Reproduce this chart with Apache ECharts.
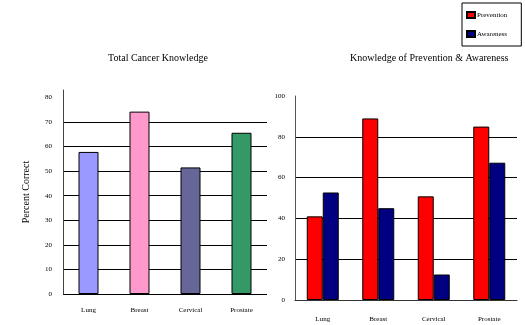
<!DOCTYPE html>
<html><head><meta charset="utf-8">
<script src="https://cdn.jsdelivr.net/npm/echarts@6/dist/echarts.min.js"></script>
<style>html,body{margin:0;padding:0;background:#fff}#c{width:525px;height:325px}</style>
</head><body><div id="c"></div>
<script>
var categories = ['Lung', 'Breast', 'Cervical', 'Prostate'];
var totalKnowledge = [57.8, 74.2, 51.5, 65.6];
var totalColors = ['#9999ff', '#ff99cc', '#666699', '#339966'];
var prevention = [41, 89, 50.8, 85];
var awareness = [52.7, 45, 12.5, 67.3];
var leftTicks = [0, 10, 20, 30, 40, 50, 60, 70, 80];
var rightTicks = [0, 20, 40, 60, 80, 100];

var F = 'Liberation Serif';
var chart = echarts.init(document.getElementById('c'));
chart.setOption({
  animation: false,
  textStyle: {fontFamily: F},
  title: [
    {text: 'Total Cancer Knowledge', left: 108, top: 53, padding: 0,
     textStyle: {fontFamily: F, fontSize: 10, fontWeight: 'normal', color: '#000'}},
    {text: 'Knowledge of Prevention & Awareness', left: 350, top: 53, padding: 0,
     textStyle: {fontFamily: F, fontSize: 10, fontWeight: 'normal', color: '#000'}}
  ],
  legend: {
    orient: 'vertical', left: 462, top: 3, width: 60, icon: 'rect',
    padding: [8, 14, 8, 4], itemGap: 11, itemWidth: 8, itemHeight: 6,
    borderColor: '#000', borderWidth: 1, borderRadius: 0,
    data: ['Prevention', 'Awareness'],
    textStyle: {fontFamily: F, fontSize: 7, color: '#000', padding: [0, 0, 0, -3]}
  },
  grid: [
    {left: 63, right: 258, top: 90, bottom: 31},
    {left: 295, right: 8, top: 96, bottom: 25}
  ],
  xAxis: [
    {type: 'category', gridIndex: 0, data: categories,
     axisLine: {show: false}, axisTick: {show: false},
     axisLabel: {fontFamily: F, fontSize: 7, color: '#000', margin: 13}},
    {type: 'category', gridIndex: 1, data: categories,
     axisLine: {show: true, lineStyle: {color: '#333', width: 1}}, axisTick: {show: false},
     axisLabel: {fontFamily: F, fontSize: 7, color: '#000', margin: 16}}
  ],
  yAxis: [
    {type: 'value', gridIndex: 0, min: leftTicks[0], max: 83, interval: 10,
     name: 'Percent Correct', nameLocation: 'middle', nameGap: 32,
     nameTextStyle: {fontFamily: F, fontSize: 10, color: '#000'},
     axisLine: {show: true, lineStyle: {color: '#444', width: 1}}, axisTick: {show: false},
     axisLabel: {fontFamily: F, fontSize: 7, color: '#000', margin: 11, padding: [0, 0, 6, 0],
       formatter: function (v) { return leftTicks.indexOf(v) >= 0 ? String(v) : ''; }},
     splitLine: {show: true, lineStyle: {width: 1.2,
       color: ['#000', '#000', '#000', '#000', '#000', '#000', '#000', '#000', 'rgba(0,0,0,0)', 'rgba(0,0,0,0)']}}},
    {type: 'value', gridIndex: 1, min: rightTicks[0], max: rightTicks[rightTicks.length - 1], interval: 20,
     axisLine: {show: true, lineStyle: {color: '#555', width: 1}}, axisTick: {show: false},
     axisLabel: {fontFamily: F, fontSize: 7, color: '#000', margin: 10, padding: [0, 0, 8, 0]},
     splitLine: {show: true, lineStyle: {width: 1,
       color: ['#000', '#000', '#000', '#000', '#000', 'rgba(0,0,0,0)']}}}
  ],
  series: [
    {type: 'bar', xAxisIndex: 0, yAxisIndex: 0, barWidth: 20,
     data: totalKnowledge.map(function (v, i) {
       return {value: v, itemStyle: {color: totalColors[i], borderColor: '#000', borderWidth: 1}};
     })},
    {name: 'Prevention', type: 'bar', xAxisIndex: 1, yAxisIndex: 1, barWidth: 16, barGap: '0%',
     itemStyle: {color: '#ff0000', borderColor: '#000', borderWidth: 1}, data: prevention},
    {name: 'Awareness', type: 'bar', xAxisIndex: 1, yAxisIndex: 1, barWidth: 16, barGap: '0%',
     itemStyle: {color: '#000080', borderColor: '#000', borderWidth: 1}, data: awareness}
  ]
});
</script>
</body></html>
